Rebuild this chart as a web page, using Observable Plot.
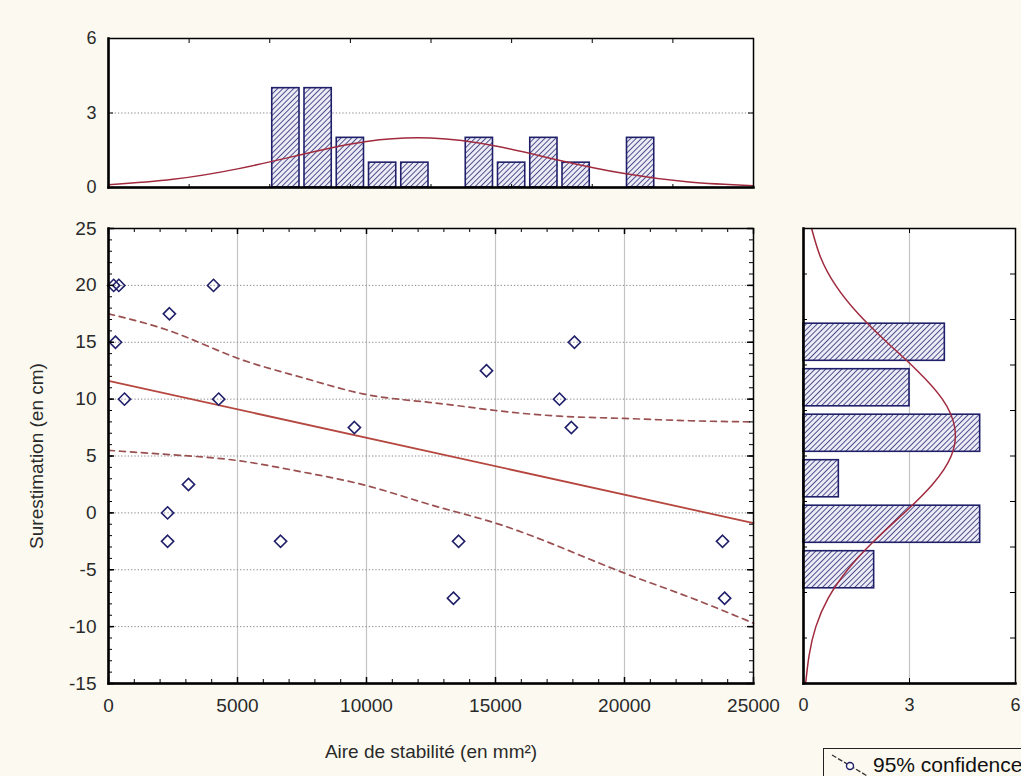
<!DOCTYPE html>
<html>
<head>
<meta charset="utf-8">
<script src="https://cdn.jsdelivr.net/npm/d3@7"></script>
<script src="https://cdn.jsdelivr.net/npm/@observablehq/plot@0.6"></script>
<style>
  html, body { margin: 0; padding: 0; background: #fcfaf0; }
  #wrap { position: relative; width: 1021px; height: 776px; overflow: hidden; background: #fcfaf0;
          font-family: "Liberation Sans", Arial, sans-serif; }
  #wrap > svg { position: absolute; }
  #legend { position: absolute; left: 823px; top: 748px; width: 260px; height: 40px;
            border: 1px solid #222; background: #fcfaf0; }
  #legend span { position: absolute; left: 49px; top: 4px; font-size: 21px; color: #111; white-space: nowrap; }
  #legend svg { position: absolute; left: 0; top: 0; }
</style>
</head>
<body>
<div id="wrap"></div>
<script>
// ---------- data ----------
// scatter: Aire de stabilité (mm²) vs Surestimation (cm)
const pointX = [200, 400, 270, 620, 4070, 2360, 4270, 2290, 2290, 3100, 6670, 9530, 13370, 13570, 14650, 17480, 17940, 18060, 23800, 23880];
const pointY = [20, 20, 15, 10, 20, 17.5, 10, 0, -2.5, 2.5, -2.5, 7.5, -7.5, -2.5, 12.5, 10, 7.5, 15, -2.5, -7.5];

// regression line
const fitX = [0, 25000];
const fitY = [11.6, -0.9];

// 95% confidence bands
const bandX = [0, 2500, 5000, 7500, 10000, 12500, 15000, 17500, 20000, 22500, 25000];
const bandUpper = [17.5, 15.9, 13.6, 11.9, 10.4, 9.7, 9.0, 8.5, 8.3, 8.1, 8.0];
const bandLower = [5.5, 5.1, 4.6, 3.6, 2.4, 0.7, -0.9, -3.0, -5.3, -7.4, -9.7];

// top histogram (x variable)
const topBinStart = [6250, 7500, 8750, 10000, 11250, 13750, 15000, 16250, 17500, 20000];
const topBinEnd   = [7500, 8750, 10000, 11250, 12500, 15000, 16250, 17500, 18750, 21250];
const topCount    = [4, 4, 2, 1, 1, 2, 1, 2, 1, 2];
const topCurveX = [0, 2500, 5000, 7500, 10000, 12500, 15000, 17500, 20000, 22500, 25000];
const topCurveF = [0.11, 0.33, 0.75, 1.33, 1.85, 1.99, 1.67, 1.09, 0.56, 0.22, 0.07];

// right histogram (y variable)
const rightBinLow  = [13, 9, 5, 1, -3, -7];
const rightBinHigh = [17, 13, 9, 5, 1, -3];
const rightCount   = [4, 3, 5, 1, 5, 2];
const rightCurveY = [25, 22.5, 20, 17.5, 15, 12.5, 10, 7.5, 5, 2.5, 0, -2.5, -5, -7.5, -10, -12.5, -15];
const rightCurveF = [0.23, 0.48, 0.91, 1.55, 2.36, 3.22, 3.93, 4.28, 4.18, 3.65, 2.85, 1.99, 1.25, 0.70, 0.35, 0.16, 0.06];

// ticks
const xTicks = [0, 5000, 10000, 15000, 20000, 25000];
const xGridTicks = [5000, 10000, 15000, 20000];
const xMinor = d3.range(0, 25001, 1000);
const yTicks = [-15, -10, -5, 0, 5, 10, 15, 20, 25];
const yGridTicks = [-10, -5, 0, 5, 10, 15, 20];
const yMinor = d3.range(-15, 26, 1);
const topYTicks = [0, 3, 6];
const topXMinor = d3.range(3125, 25000, 3125);
const rightXTicks = [0, 3, 6];
const rightYMinor = [-11, -7, -3, 1, 5, 9, 13, 17, 21];

// ---------- tables ----------
const points = pointX.map((x, i) => ({x, y: pointY[i]}));
const fit = fitX.map((x, i) => ({x, y: fitY[i]}));
const band = bandX.map((x, i) => ({x, upper: bandUpper[i], lower: bandLower[i]}));
const topBins = topBinStart.map((x1, i) => ({x1, x2: topBinEnd[i], n: topCount[i]}));
const topCurve = topCurveX.map((x, i) => ({x, f: topCurveF[i]}));
const rightBins = rightBinLow.map((y1, i) => ({y1, y2: rightBinHigh[i], n: rightCount[i]}));
const rightCurve = rightCurveY.map((y, i) => ({y, f: rightCurveF[i]}));

const navy = "#20206a";
const curveCol = "#a02a3e";
const fitCol = "#b5473f";
const bandCol = "#9a5050";
const style = {background: "transparent", fontFamily: "Liberation Sans, Arial, sans-serif", fontSize: "18px", color: "#2a2a2a", overflow: "visible"};

function hatch(svg, id) {
  const defs = d3.select(svg).insert("defs", ":first-child");
  const p = defs.append("pattern").attr("id", id).attr("patternUnits", "userSpaceOnUse")
    .attr("width", 3.8).attr("height", 3.8).attr("patternTransform", "rotate(45)");
  p.append("rect").attr("width", 3.8).attr("height", 3.8).attr("fill", "#ececf7");
  p.append("line").attr("x1", 0).attr("y1", 0).attr("x2", 0).attr("y2", 3.8)
    .attr("stroke", navy).attr("stroke-width", 1.5);
  d3.select(svg).selectAll("g[aria-label='rect'] rect").attr("fill", `url(#${id})`);
}

const wrap = document.getElementById("wrap");

// ---------- main scatter ----------
const FH = 455, FW = 645;
const mainPlot = Plot.plot({
  width: 790, height: 576,
  marginLeft: 108, marginRight: 37, marginTop: 28, marginBottom: 93,
  x: {domain: [0, 25000]},
  y: {domain: [-15, 25]},
  style,
  marks: [
    Plot.frame({fill: "white", stroke: "none"}),
    Plot.gridX(xGridTicks, {stroke: "#c4c4c4", strokeOpacity: 1, strokeWidth: 1.2}),
    Plot.gridY(yGridTicks, {stroke: "#888", strokeOpacity: 1, strokeDasharray: "1.3,2"}),
    Plot.line(band, {x: "x", y: "upper", stroke: bandCol, strokeWidth: 1.7, strokeDasharray: "6,5", curve: "natural"}),
    Plot.line(band, {x: "x", y: "lower", stroke: bandCol, strokeWidth: 1.7, strokeDasharray: "6,5", curve: "natural"}),
    Plot.line(fit, {x: "x", y: "y", stroke: fitCol, strokeWidth: 1.8}),
    Plot.dot(points, {x: "x", y: "y", symbol: "diamond2", r: 5.5, stroke: navy, fill: "none", strokeWidth: 1.6}),
    Plot.ruleX(xMinor, {stroke: "#000", insetTop: FH - 4}),
    Plot.ruleX(xMinor, {stroke: "#000", insetBottom: FH - 4}),
    Plot.ruleX(xTicks, {stroke: "#000", strokeWidth: 1.5, insetTop: FH - 6}),
    Plot.ruleX(xTicks, {stroke: "#000", strokeWidth: 1.5, insetBottom: FH - 6}),
    Plot.ruleY(yMinor, {stroke: "#000", insetRight: FW - 4}),
    Plot.ruleY(yMinor, {stroke: "#000", insetLeft: FW - 4}),
    Plot.ruleY(yTicks, {stroke: "#000", strokeWidth: 1.5, insetRight: FW - 6}),
    Plot.ruleY(yTicks, {stroke: "#000", strokeWidth: 1.5, insetLeft: FW - 6}),
    Plot.frame({stroke: "#000", strokeWidth: 1.5}),
    Plot.frame({anchor: "left", stroke: "#000", strokeWidth: 2.5}),
    Plot.frame({anchor: "bottom", stroke: "#000", strokeWidth: 2.5}),
    Plot.axisX({ticks: xTicks, tickSize: 0, tickPadding: 15, tickFormat: d => String(d),
      label: "Aire de stabilité (en mm²)", labelAnchor: "center", labelOffset: 74, labelArrow: false, fontSize: 19}),
    Plot.axisY({ticks: yTicks, tickSize: 0, tickPadding: 12, tickFormat: d => String(d),
      label: "Surestimation (en cm)", labelAnchor: "center", labelOffset: 79, labelArrow: false, fontSize: 19})
  ]
});
mainPlot.style.left = "0px"; mainPlot.style.top = "200px";
wrap.appendChild(mainPlot);

// ---------- top histogram ----------
const TH = 149;
const topPlot = Plot.plot({
  width: 790, height: 200,
  marginLeft: 108, marginRight: 37, marginTop: 38, marginBottom: 13,
  x: {domain: [0, 25000]},
  y: {domain: [0, 6]},
  style,
  marks: [
    Plot.frame({fill: "white", stroke: "none"}),
    Plot.gridY([3], {stroke: "#888", strokeOpacity: 1, strokeDasharray: "1.3,2"}),
    Plot.rect(topBins, {x1: "x1", x2: "x2", y1: 0, y2: "n", insetLeft: 2.5, insetRight: 2.5, fill: "#ececf7", stroke: navy, strokeWidth: 1.6}),
    Plot.line(topCurve, {x: "x", y: "f", stroke: curveCol, strokeWidth: 1.5, curve: "natural"}),
    Plot.ruleX(topXMinor, {stroke: "#000", insetBottom: TH - 5}),
    Plot.ruleX(topXMinor, {stroke: "#000", insetTop: TH - 3}),
    Plot.ruleY(topYTicks, {stroke: "#000", insetRight: FW - 5}),
    Plot.ruleY(topYTicks, {stroke: "#000", insetLeft: FW - 5}),
    Plot.frame({stroke: "#000", strokeWidth: 1.5}),
    Plot.frame({anchor: "left", stroke: "#000", strokeWidth: 2.5}),
    Plot.frame({anchor: "bottom", stroke: "#000", strokeWidth: 2.5}),
    Plot.axisY({ticks: topYTicks, tickSize: 0, tickPadding: 12, tickFormat: d => String(d), label: null}),
    Plot.axisX({ticks: [], label: null})
  ]
});
hatch(topPlot, "hatchTop");
topPlot.style.left = "0px"; topPlot.style.top = "0px";
wrap.appendChild(topPlot);

// ---------- right histogram ----------
const RW = 212;
const rightPlot = Plot.plot({
  width: 231, height: 576,
  marginLeft: 13, marginRight: 6, marginTop: 28, marginBottom: 93,
  x: {domain: [0, 6]},
  y: {domain: [-15, 25]},
  style,
  marks: [
    Plot.frame({fill: "white", stroke: "none"}),
    Plot.gridX([3], {stroke: "#c4c4c4", strokeOpacity: 1, strokeWidth: 1.2}),
    Plot.rect(rightBins, {y1: "y1", y2: "y2", x1: 0, x2: "n", insetTop: 4.2, insetBottom: 4.2, fill: "#ececf7", stroke: navy, strokeWidth: 1.6}),
    Plot.line(rightCurve, {x: "f", y: "y", stroke: curveCol, strokeWidth: 1.5, curve: "natural"}),
    Plot.ruleY(rightYMinor, {stroke: "#000", insetRight: RW - 4}),
    Plot.ruleY(rightYMinor, {stroke: "#000", insetLeft: RW - 5}),
    Plot.ruleX([3], {stroke: "#000", insetTop: FH - 5}),
    Plot.ruleX([3], {stroke: "#000", insetBottom: FH - 5}),
    Plot.frame({stroke: "#000", strokeWidth: 1.5}),
    Plot.frame({anchor: "left", stroke: "#000", strokeWidth: 2.5}),
    Plot.frame({anchor: "bottom", stroke: "#000", strokeWidth: 2.5}),
    Plot.axisX({ticks: rightXTicks, tickSize: 0, tickPadding: 15, tickFormat: d => String(d), label: null}),
    Plot.axisY({ticks: [], label: null})
  ]
});
hatch(rightPlot, "hatchRight");
rightPlot.style.left = "790px"; rightPlot.style.top = "200px";
wrap.appendChild(rightPlot);

// ---------- legend ----------
const leg = document.createElement("div");
leg.id = "legend";
leg.innerHTML = `<svg width="50" height="40"><line x1="8" y1="6" x2="45" y2="28" stroke="#333" stroke-width="1.3" stroke-dasharray="5,2"/><circle cx="26" cy="17" r="3.5" fill="white" stroke="${navy}" stroke-width="1.4"/></svg><span>95% confidence</span>`;
wrap.appendChild(leg);
</script>
</body>
</html>
